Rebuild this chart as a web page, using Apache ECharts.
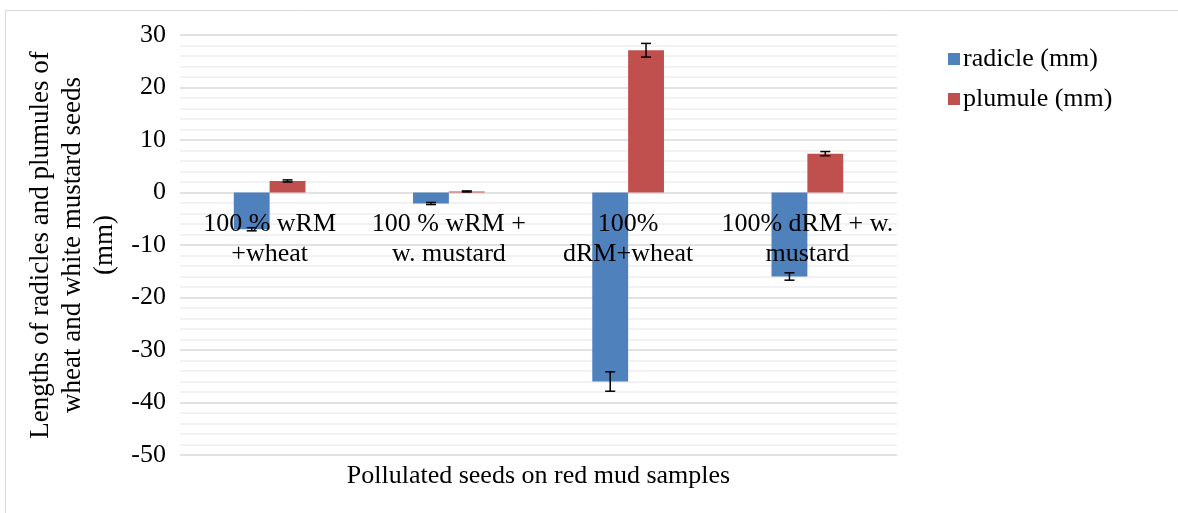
<!DOCTYPE html>
<html><head><meta charset="utf-8">
<script src="https://cdn.jsdelivr.net/npm/echarts@6/dist/echarts.min.js"></script>
<style>html,body{margin:0;padding:0;background:#fff}#c{width:1178px;height:513px}</style>
</head><body><div id="c"></div>
<script>
const categories = ['100 % wRM\n+wheat', '100 % wRM +\nw. mustard', '100%\ndRM+wheat', '100% dRM + w.\nmustard'];
const radicle = [-7.0, -2.1, -36.0, -16.0];
const radicleErr = [0.3, 0.2, 1.85, 0.7];
const plumule = [2.2, 0.2, 27.1, 7.4];
const plumuleErr = [0.2, 0.1, 1.3, 0.4];
const yTicks = {min: -50, max: 30, interval: 10};

const font = '"Liberation Serif", "Times New Roman", serif';
const FS = 26;
const chart = echarts.init(document.getElementById('c'));

// pixel distance from the bottom of the plot to the zero line (plot height 420 px over 80 units)
const zeroOffset = -(0 - yTicks.min) * 420 / (yTicks.max - yTicks.min);

function errSeries(vals, errs, side) {
  return {
    type: 'custom', z: 10, silent: true,
    data: vals.map((v, i) => [i, v, errs[i]]),
    renderItem: function (params, api) {
      const i = api.value(0), v = api.value(1), e = api.value(2);
      const bw = api.size([1, 0])[0] * 0.2;
      const cx = api.coord([i, v])[0] + side * bw / 2;
      const yt = api.coord([i, v + e])[1], yb = api.coord([i, v - e])[1];
      const cap = 5;
      const st = {stroke: '#000', lineWidth: 1.5};
      return {type: 'group', children: [
        {type: 'line', shape: {x1: cx, y1: yt, x2: cx, y2: yb}, style: st},
        {type: 'line', shape: {x1: cx - cap, y1: yt, x2: cx + cap, y2: yt}, style: st},
        {type: 'line', shape: {x1: cx - cap, y1: yb, x2: cx + cap, y2: yb}, style: st}
      ]};
    }
  };
}

chart.setOption({
  animation: false,
  graphic: [{type: 'rect', shape: {x: 5.5, y: 10.5, width: 1180, height: 510}, style: {fill: 'none', stroke: '#d9d9d9', lineWidth: 1}}],
  grid: {left: 180, right: 281, top: 35, bottom: 58, outerBoundsMode: 'none', containLabel: false},
  legend: {
    orient: 'vertical', left: 943, top: 41, itemWidth: 12, itemHeight: 12, itemGap: 14,
    icon: 'rect',
    textStyle: {fontFamily: font, fontSize: FS, color: '#000', padding: [0, 0, 0, -2]},
    data: ['radicle (mm)', 'plumule (mm)']
  },
  xAxis: {
    type: 'category', data: categories, position: 'bottom', offset: zeroOffset, z: 20,
    name: 'Pollulated seeds on red mud samples', nameLocation: 'middle', nameGap: 0,
    nameTextStyle: {fontFamily: font, fontSize: FS, color: '#000', verticalAlign: 'top', padding: [271, 0, 0, 0]},
    axisLine: {show: false, onZero: false}, axisTick: {show: false},
    axisLabel: {fontFamily: font, fontSize: FS, color: '#000', lineHeight: 30, margin: 17, interval: 0}
  },
  yAxis: {
    type: 'value', min: yTicks.min, max: yTicks.max, interval: yTicks.interval,
    name: 'Lengths of radicles and plumules of\nwheat and white mustard seeds\n(mm)',
    nameLocation: 'middle', nameGap: 59, nameRotate: 90,
    nameTextStyle: {fontFamily: font, fontSize: 27, color: '#000', lineHeight: 32},
    axisLine: {show: false}, axisTick: {show: false},
    axisLabel: {fontFamily: font, fontSize: FS, color: '#000', margin: 14},
    splitLine: {lineStyle: {color: '#d9d9d9', width: 1.5}},
    minorTick: {show: false, splitNumber: 5},
    minorSplitLine: {show: true, lineStyle: {color: '#eeeeee', width: 1.5}}
  },
  series: [
    {name: 'radicle (mm)', type: 'bar', data: radicle, barWidth: '20%', barGap: '0%',
     itemStyle: {color: '#4F81BD'}},
    {name: 'plumule (mm)', type: 'bar', data: plumule, barWidth: '20%', barGap: '0%',
     itemStyle: {color: '#C0504D'}},
    errSeries(radicle, radicleErr, -1),
    errSeries(plumule, plumuleErr, 1)
  ]
});
</script></body></html>
